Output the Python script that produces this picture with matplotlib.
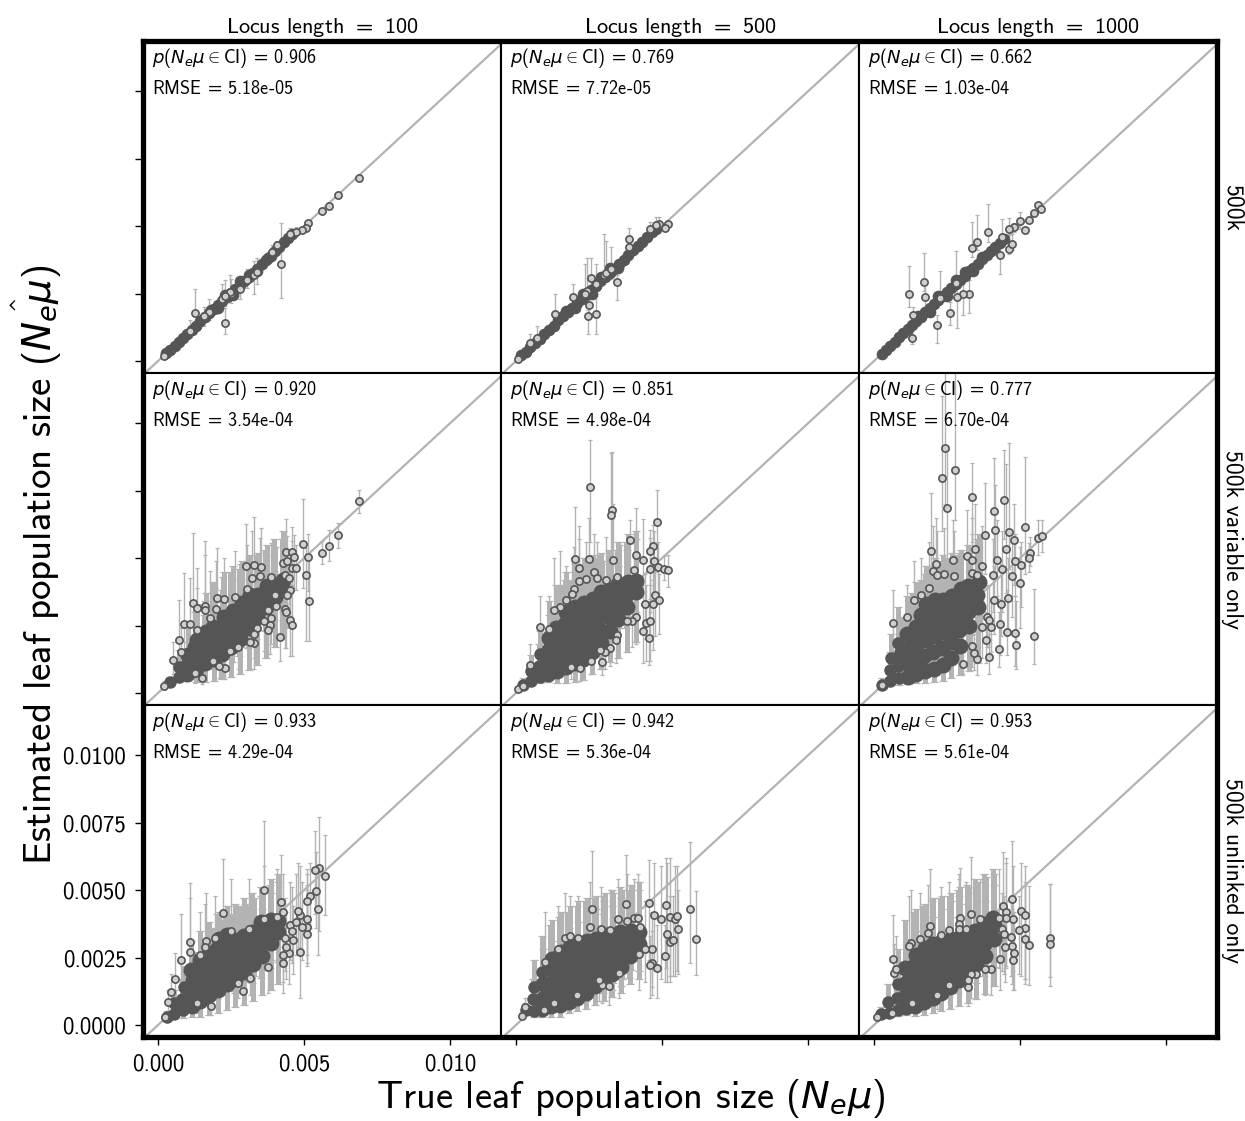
#!/usr/bin/env python3

import matplotlib
matplotlib.use('Agg')
import matplotlib.pyplot as plt
import numpy as np

################################################################################

# all values are read off the picture, in units of 1e-5
# the plain lists are the points that can be told apart
# the core lists stand in for the overplotted middle of each cloud

r1c1_x = [687, 615, 587, 562, 515, 508, 494, 472, 422, 127, 229, 20, 327, 249, 219, 304, 390, 453, 173, 110, 156, 407, 245, 230, 339, 282]
r1c1_y = [678, 614, 576, 558, 512, 494, 486, 479, 358, 177, 141, 19, 320, 250, 228, 300, 405, 470, 180, 112, 165, 430, 255, 240, 330, 265]
r1c1_hi = [684, 620, 581, 562, 520, 500, 492, 498, 510, 265, 198, 22, 370, 302, 285, 340, 430, 494, 228, 150, 200, 445, 320, 300, 380, 300]
r1c1_lo = [672, 608, 571, 554, 505, 488, 480, 470, 232, 165, 101, 17, 247, 215, 200, 270, 380, 445, 150, 90, 130, 400, 225, 205, 285, 230]
r1c1_core_x = [28, 42, 56, 70, 85, 100, 115, 130, 145, 160, 175, 190, 205, 220, 235, 250, 265, 280, 295, 310, 325, 340, 355, 370, 385, 400, 415, 430, 445, 458, 180, 205, 230, 255, 280, 310, 340, 375]
r1c1_core_y = [28, 42, 57, 71, 86, 100, 116, 131, 147, 163, 178, 192, 208, 222, 238, 252, 266, 282, 297, 310, 326, 342, 358, 374, 390, 407, 422, 440, 456, 470, 190, 195, 243, 245, 295, 320, 335, 382]
r1c1_core_hi = []
r1c1_core_lo = []

r1c2_x = [7, 520, 489, 511, 387, 386, 258, 346, 133, 195, 248, 247, 275, 300, 309, 325, 243, 236, 272, 48, 73, 478, 460]
r1c2_y = [8, 509, 508, 493, 451, 423, 308, 294, 174, 237, 207, 165, 175, 320, 325, 340, 260, 250, 285, 68, 85, 505, 490]
r1c2_hi = [10, 515, 534, 498, 493, 440, 383, 320, 249, 284, 240, 190, 240, 469, 444, 422, 383, 360, 358, 101, 130, 534, 515]
r1c2_lo = [6, 503, 480, 488, 420, 405, 280, 226, 150, 215, 175, 101, 99, 285, 295, 305, 225, 215, 250, 55, 60, 480, 470]
r1c2_core_x = [16, 32, 48, 64, 80, 96, 112, 128, 144, 160, 176, 192, 208, 224, 240, 256, 272, 288, 304, 320, 336, 352, 368, 384, 400, 416, 432, 448, 464, 478, 170, 200, 230, 260, 290, 320, 350]
r1c2_core_y = [20, 34, 50, 66, 83, 98, 115, 130, 150, 165, 180, 197, 215, 230, 245, 262, 278, 295, 310, 325, 342, 360, 375, 392, 410, 425, 442, 460, 478, 490, 185, 195, 250, 250, 310, 345, 345]
r1c2_core_hi = []
r1c2_core_lo = []

r1c3_x = [561, 573, 548, 532, 500, 480, 461, 518, 389, 352, 335, 120, 170, 175, 431, 463, 472, 324, 303, 283, 259, 215, 129, 134, 225, 282, 437]
r1c3_y = [580, 564, 549, 523, 518, 496, 491, 484, 477, 440, 419, 247, 292, 237, 392, 417, 434, 250, 247, 237, 178, 132, 86, 170, 235, 290, 460]
r1c3_hi = [586, 570, 556, 530, 554, 510, 530, 492, 582, 543, 514, 352, 400, 296, 450, 440, 470, 300, 290, 290, 220, 170, 110, 200, 333, 407, 525]
r1c3_lo = [574, 558, 542, 516, 490, 480, 470, 476, 440, 410, 385, 200, 260, 200, 321, 395, 410, 179, 170, 123, 132, 66, 64, 150, 210, 265, 435]
r1c3_core_x = [26, 40, 55, 70, 85, 100, 115, 130, 145, 160, 175, 190, 205, 220, 235, 250, 265, 280, 295, 310, 325, 340, 355, 370, 385, 400, 415, 430, 445, 150, 190, 220, 250, 280, 310, 340, 370]
r1c3_core_y = [27, 40, 55, 70, 87, 102, 118, 133, 148, 163, 180, 195, 210, 226, 240, 255, 272, 287, 300, 316, 332, 345, 360, 378, 392, 406, 422, 438, 452, 165, 180, 240, 240, 300, 330, 335, 385]
r1c3_core_hi = []
r1c3_core_lo = []

################################################################################

r2c1_x = [687, 615, 587, 562, 496, 513, 508, 516, 438, 460, 465, 428, 440, 459, 473, 300, 330, 352, 350, 323, 387, 433, 448, 304, 263, 227, 202, 199, 159, 159, 121, 133, 90, 110, 133, 70, 52, 79, 176, 419, 453, 457, 436, 437, 388, 382, 378, 405, 378, 452, 443, 402, 228, 208, 330, 314, 272, 364, 339, 327, 247, 188, 127, 150, 20]
r2c1_y = [711, 584, 546, 519, 554, 504, 439, 340, 522, 522, 503, 482, 488, 464, 464, 472, 476, 466, 433, 427, 429, 439, 427, 385, 357, 348, 353, 312, 324, 309, 333, 316, 254, 254, 235, 197, 123, 153, 276, 207, 269, 251, 313, 301, 279, 251, 234, 324, 306, 380, 362, 362, 94, 101, 185, 190, 170, 266, 242, 217, 155, 118, 75, 57, 27]
r2c1_hi = [753, 630, 604, 562, 718, 589, 537, 501, 646, 614, 587, 562, 581, 562, 550, 626, 651, 611, 574, 599, 555, 537, 501, 550, 525, 500, 537, 488, 562, 513, 593, 463, 445, 427, 390, 345, 190, 242, 451, 328, 427, 402, 451, 427, 402, 365, 365, 451, 402, 488, 464, 476, 168, 180, 291, 291, 254, 377, 353, 328, 229, 205, 131, 106, 45]
r2c1_lo = [667, 537, 488, 480, 390, 377, 192, 192, 402, 402, 390, 377, 402, 377, 383, 340, 352, 340, 328, 303, 328, 340, 328, 254, 229, 217, 217, 180, 180, 168, 168, 155, 118, 118, 106, 94, 69, 81, 131, 118, 137, 137, 168, 168, 180, 143, 143, 217, 217, 254, 242, 254, 50, 57, 87, 94, 87, 155, 131, 131, 69, 44, 38, 32, 13]
r2c1_core_x = [40, 70, 72, 98, 101, 103, 128, 131, 126, 133, 160, 157, 162, 165, 190, 187, 193, 188, 220, 218, 223, 225, 250, 253, 247, 255, 280, 277, 283, 286, 310, 308, 312, 315, 340, 337, 343, 370, 367, 373, 400, 397, 425, 428]
r2c1_core_y = [40, 60, 95, 70, 105, 140, 90, 130, 170, 195, 110, 150, 190, 225, 125, 165, 205, 245, 145, 190, 235, 280, 170, 215, 260, 305, 200, 245, 290, 335, 240, 285, 330, 365, 280, 320, 365, 320, 355, 395, 355, 400, 385, 420]
r2c1_core_hi = [60, 95, 160, 130, 190, 260, 170, 240, 300, 330, 190, 290, 340, 370, 220, 330, 390, 410, 270, 380, 430, 450, 320, 420, 450, 470, 360, 460, 480, 490, 420, 490, 500, 510, 480, 510, 520, 510, 530, 550, 540, 570, 570, 600]
r2c1_core_lo = [28, 40, 55, 45, 60, 80, 40, 75, 95, 110, 40, 85, 105, 125, 45, 90, 115, 135, 50, 100, 130, 165, 60, 115, 145, 185, 70, 135, 170, 205, 85, 165, 205, 230, 105, 200, 235, 130, 230, 260, 170, 270, 200, 300]

r2c2_x = [254, 329, 325, 483, 390, 468, 457, 203, 248, 331, 410, 435, 473, 487, 507, 520, 403, 457, 214, 266, 239, 277, 308, 346, 214, 199, 192, 172, 151, 128, 82, 111, 477, 489, 468, 443, 412, 445, 457, 435, 455, 397, 380, 346, 342, 321, 303, 286, 294, 256, 220, 189, 48, 7, 25]
r2c2_y = [763, 679, 661, 635, 568, 545, 525, 498, 498, 492, 512, 493, 488, 468, 461, 455, 457, 461, 463, 447, 424, 426, 420, 429, 414, 387, 367, 343, 320, 309, 244, 238, 365, 345, 328, 328, 281, 260, 266, 229, 202, 266, 266, 213, 196, 168, 153, 158, 116, 118, 94, 96, 103, 15, 26]
r2c2_hi = [940, 893, 890, 753, 642, 624, 605, 688, 650, 700, 685, 646, 600, 560, 507, 510, 590, 575, 620, 590, 560, 560, 580, 560, 570, 540, 500, 470, 525, 500, 360, 360, 480, 440, 420, 440, 400, 400, 400, 330, 340, 370, 350, 330, 310, 260, 240, 240, 190, 190, 160, 160, 180, 20, 35]
r2c2_lo = [560, 500, 480, 450, 400, 330, 350, 320, 310, 330, 340, 330, 340, 370, 420, 393, 290, 300, 300, 300, 270, 290, 270, 290, 270, 250, 230, 220, 210, 190, 150, 150, 210, 220, 160, 200, 180, 120, 120, 110, 105, 170, 150, 130, 110, 100, 90, 90, 65, 70, 45, 50, 60, 10, 18]
r2c2_core_x = [25, 50, 52, 80, 78, 83, 110, 108, 112, 114, 140, 137, 143, 138, 170, 167, 173, 168, 172, 200, 198, 203, 197, 202, 230, 228, 233, 226, 232, 260, 257, 263, 258, 262, 290, 287, 293, 288, 292, 320, 317, 323, 319, 350, 347, 353, 349, 380, 377, 383, 410, 412, 155, 185, 215, 245, 275, 125, 155, 185, 215, 245]
r2c2_core_y = [30, 45, 80, 60, 100, 145, 70, 115, 160, 205, 80, 130, 180, 240, 95, 145, 200, 255, 300, 110, 160, 215, 270, 320, 125, 175, 230, 285, 335, 150, 205, 260, 310, 350, 185, 235, 290, 340, 375, 230, 280, 330, 380, 275, 320, 365, 405, 320, 365, 410, 375, 415, 225, 240, 250, 285, 315, 135, 160, 175, 200, 230]
r2c2_core_hi = [55, 85, 140, 110, 180, 230, 130, 210, 290, 340, 150, 250, 340, 400, 170, 270, 370, 420, 450, 200, 300, 400, 450, 480, 220, 340, 430, 480, 500, 270, 390, 460, 500, 510, 330, 440, 490, 510, 520, 400, 480, 520, 530, 470, 530, 550, 560, 530, 560, 590, 570, 600, 400, 420, 450, 480, 500, 300, 340, 360, 400, 430]
r2c2_core_lo = [18, 28, 45, 35, 55, 85, 40, 60, 90, 120, 38, 70, 100, 140, 38, 80, 115, 150, 175, 42, 90, 125, 165, 195, 48, 100, 135, 175, 210, 70, 115, 150, 195, 225, 90, 135, 180, 220, 250, 115, 170, 210, 250, 130, 200, 240, 280, 150, 240, 285, 190, 300, 120, 130, 140, 160, 180, 70, 80, 95, 110, 125]

r2c3_x = [242, 278, 232, 249, 335, 446, 411, 413, 381, 463, 480, 517, 560, 574, 452, 196, 346, 319, 269, 337, 212, 535, 531, 504, 482, 420, 369, 438, 408, 335, 351, 500, 472, 200, 240, 274, 214, 188, 135, 66, 114, 161, 460, 433, 411, 385, 392, 401, 430, 454, 482, 485, 548, 427, 392, 382, 354, 343, 334, 303, 368, 26]
r2c3_y = [907, 827, 798, 685, 727, 716, 676, 603, 584, 598, 568, 615, 575, 582, 533, 526, 534, 509, 493, 494, 478, 520, 499, 475, 488, 494, 472, 461, 439, 445, 436, 409, 433, 454, 441, 433, 436, 390, 345, 259, 282, 362, 352, 330, 346, 282, 269, 244, 254, 226, 222, 179, 211, 164, 133, 195, 124, 147, 174, 106, 246, 29]
r2c3_hi = [1200, 1200, 1100, 900, 852, 901, 870, 770, 778, 926, 700, 876, 640, 640, 850, 741, 700, 680, 640, 650, 650, 580, 555, 560, 590, 640, 620, 600, 570, 590, 560, 540, 560, 620, 610, 600, 600, 560, 490, 383, 400, 500, 500, 480, 470, 400, 400, 350, 350, 380, 360, 340, 386, 300, 220, 300, 200, 220, 260, 175, 340, 40]
r2c3_lo = [700, 640, 600, 470, 560, 570, 490, 450, 440, 460, 400, 440, 510, 521, 370, 380, 400, 390, 350, 350, 330, 470, 450, 320, 360, 360, 340, 300, 300, 310, 320, 240, 280, 320, 300, 300, 300, 270, 250, 170, 180, 250, 230, 210, 220, 170, 170, 150, 140, 140, 100, 90, 108, 95, 70, 110, 65, 85, 95, 70, 130, 18]
r2c3_core_x = [28, 55, 53, 57, 85, 83, 87, 82, 115, 112, 118, 113, 145, 142, 148, 143, 175, 172, 178, 173, 177, 205, 202, 208, 203, 207, 235, 232, 238, 233, 237, 265, 262, 268, 263, 267, 295, 292, 298, 293, 297, 325, 322, 328, 323, 355, 352, 358, 160, 190, 220, 250, 280, 130, 160, 190, 220, 250, 100, 130]
r2c3_core_y = [30, 45, 85, 130, 55, 100, 150, 185, 60, 110, 165, 220, 70, 125, 185, 245, 80, 135, 195, 260, 330, 90, 150, 210, 270, 345, 105, 165, 225, 285, 345, 130, 190, 245, 305, 360, 175, 235, 290, 345, 385, 250, 300, 350, 395, 320, 365, 410, 290, 300, 315, 330, 350, 215, 225, 240, 255, 275, 130, 155]
r2c3_core_hi = [55, 80, 150, 220, 100, 180, 270, 320, 110, 200, 290, 360, 125, 230, 330, 410, 145, 250, 360, 440, 470, 165, 280, 390, 470, 500, 190, 320, 430, 490, 510, 240, 360, 460, 500, 520, 320, 440, 500, 520, 530, 450, 510, 530, 550, 540, 570, 590, 420, 450, 480, 500, 510, 370, 380, 410, 430, 470, 280, 320]
r2c3_core_lo = [18, 28, 50, 75, 30, 55, 85, 105, 32, 60, 90, 125, 35, 70, 105, 140, 38, 75, 110, 150, 190, 40, 85, 120, 160, 210, 45, 95, 130, 170, 210, 55, 110, 145, 185, 225, 65, 140, 175, 215, 240, 80, 185, 215, 245, 110, 225, 260, 140, 155, 170, 190, 210, 110, 115, 125, 140, 160, 70, 85]

################################################################################

r3c1_x = [573, 550, 539, 540, 522, 509, 548, 364, 420, 427, 221, 110, 110, 79, 56, 44, 32, 24, 180, 291, 272, 316, 376, 427, 486, 449, 438, 429, 462, 434, 510, 510, 487, 480, 509, 453, 459, 474, 493, 196, 165, 144, 161, 250, 310, 362, 407, 133]
r3c1_y = [552, 582, 573, 498, 478, 461, 429, 500, 457, 420, 414, 306, 271, 241, 169, 121, 86, 31, 71, 127, 155, 174, 214, 228, 269, 265, 290, 259, 314, 324, 339, 363, 407, 423, 393, 370, 347, 382, 363, 322, 312, 261, 290, 349, 354, 394, 400, 80]
r3c1_hi = [703, 770, 721, 640, 600, 580, 560, 758, 629, 560, 616, 526, 470, 413, 265, 190, 130, 40, 105, 180, 220, 250, 310, 350, 390, 380, 420, 370, 440, 470, 500, 520, 590, 600, 560, 530, 510, 560, 530, 480, 490, 420, 450, 540, 540, 590, 580, 130]
r3c1_lo = [409, 348, 410, 360, 360, 350, 259, 340, 330, 290, 270, 190, 160, 130, 100, 80, 50, 18, 37, 80, 100, 110, 120, 120, 99, 150, 170, 160, 190, 200, 220, 230, 280, 290, 260, 240, 230, 260, 240, 200, 190, 150, 170, 230, 230, 270, 270, 45]
r3c1_core_x = [30, 55, 53, 85, 83, 87, 115, 112, 118, 113, 145, 143, 147, 142, 175, 172, 178, 173, 205, 202, 208, 203, 207, 235, 232, 238, 233, 237, 265, 262, 268, 263, 295, 292, 298, 293, 325, 322, 328, 323, 355, 352, 358, 353, 385, 382, 388, 410, 412, 190, 220, 250, 280, 160, 190, 220, 250, 280, 310]
r3c1_core_y = [30, 40, 80, 55, 95, 140, 70, 115, 165, 205, 90, 135, 185, 240, 110, 155, 205, 265, 130, 175, 225, 280, 320, 150, 195, 245, 295, 335, 170, 215, 265, 315, 195, 240, 285, 330, 225, 265, 305, 345, 255, 300, 345, 380, 305, 350, 390, 345, 385, 235, 255, 270, 290, 160, 180, 200, 220, 240, 265]
r3c1_core_hi = [50, 70, 130, 100, 170, 220, 130, 200, 270, 310, 160, 240, 310, 350, 190, 270, 340, 380, 220, 310, 380, 410, 420, 260, 340, 410, 430, 440, 300, 380, 440, 450, 340, 420, 450, 470, 380, 450, 470, 490, 430, 480, 500, 510, 490, 520, 540, 530, 560, 360, 390, 410, 440, 280, 310, 340, 370, 400, 440]
r3c1_core_lo = [20, 25, 45, 25, 55, 80, 28, 65, 90, 115, 30, 75, 100, 130, 35, 85, 115, 150, 45, 95, 125, 160, 185, 55, 110, 140, 170, 195, 65, 120, 150, 185, 75, 135, 165, 195, 90, 155, 180, 205, 110, 175, 205, 230, 130, 210, 240, 150, 235, 120, 130, 145, 160, 85, 95, 110, 125, 140, 160]

r3c2_x = [595, 618, 514, 456, 376, 259, 472, 496, 527, 544, 550, 554, 518, 527, 537, 510, 483, 464, 459, 464, 403, 418, 349, 380, 254, 291, 320, 166, 185, 211, 145, 100, 426, 443, 420, 317, 294, 283, 351, 208, 128, 97, 19, 31]
r3c2_y = [430, 319, 446, 452, 450, 429, 407, 392, 400, 394, 403, 355, 339, 308, 315, 256, 211, 231, 223, 281, 398, 398, 392, 386, 363, 355, 351, 324, 331, 324, 281, 234, 363, 283, 262, 145, 148, 166, 191, 111, 80, 55, 33, 67]
r3c2_hi = [678, 497, 620, 610, 632, 647, 600, 590, 620, 590, 590, 500, 600, 480, 480, 370, 370, 350, 330, 420, 540, 560, 540, 560, 530, 510, 500, 490, 480, 480, 440, 420, 530, 460, 420, 220, 210, 250, 300, 170, 125, 80, 45, 100]
r3c2_lo = [228, 186, 210, 240, 310, 280, 220, 170, 180, 180, 200, 190, 160, 160, 180, 160, 100, 110, 100, 140, 240, 240, 260, 250, 240, 240, 230, 210, 210, 210, 170, 130, 220, 160, 130, 75, 80, 90, 100, 65, 50, 35, 22, 40]
r3c2_core_x = [35, 60, 58, 62, 90, 88, 92, 87, 120, 118, 122, 117, 123, 150, 148, 152, 147, 153, 180, 178, 182, 177, 183, 210, 208, 212, 207, 213, 240, 238, 242, 237, 243, 270, 268, 272, 267, 273, 300, 298, 302, 297, 303, 330, 328, 332, 327, 360, 358, 362, 357, 390, 388, 392, 420, 422]
r3c2_core_y = [55, 50, 95, 140, 60, 105, 150, 195, 70, 115, 160, 210, 245, 75, 125, 175, 225, 270, 85, 140, 190, 240, 290, 100, 150, 200, 250, 300, 120, 170, 220, 265, 310, 145, 190, 235, 280, 320, 170, 215, 260, 305, 335, 190, 235, 280, 325, 215, 255, 300, 345, 255, 300, 350, 300, 345]
r3c2_core_hi = [80, 85, 170, 240, 105, 190, 280, 330, 120, 210, 310, 370, 390, 135, 230, 330, 400, 420, 155, 260, 360, 420, 440, 180, 280, 380, 440, 460, 220, 320, 410, 460, 470, 270, 360, 430, 470, 480, 320, 410, 460, 480, 490, 360, 440, 490, 500, 400, 470, 500, 510, 460, 500, 520, 500, 530]
r3c2_core_lo = [35, 30, 50, 70, 30, 55, 80, 100, 30, 60, 85, 110, 125, 30, 65, 90, 120, 140, 45, 75, 100, 130, 150, 50, 80, 105, 135, 160, 60, 90, 115, 145, 170, 75, 105, 130, 155, 175, 90, 120, 145, 170, 190, 105, 130, 155, 185, 120, 145, 170, 200, 150, 175, 205, 170, 200]

r3c3_x = [602, 604, 472, 443, 504, 518, 518, 518, 529, 475, 452, 452, 429, 332, 294, 292, 292, 191, 185, 158, 125, 120, 64, 68, 76, 364, 314, 255, 228, 437, 446, 469, 498, 472, 480, 477, 448, 431, 400, 381, 349, 332, 322, 322, 255, 217, 131, 8, 62]
r3c3_y = [323, 299, 468, 442, 421, 408, 360, 320, 296, 394, 419, 398, 398, 410, 398, 376, 357, 367, 342, 318, 302, 292, 246, 191, 206, 392, 357, 351, 333, 355, 336, 326, 351, 292, 267, 240, 289, 243, 206, 209, 187, 187, 139, 166, 148, 111, 80, 28, 43]
r3c3_hi = [524, 524, 684, 640, 600, 590, 530, 520, 517, 590, 620, 600, 580, 622, 583, 560, 540, 579, 520, 490, 500, 480, 407, 300, 330, 540, 530, 530, 510, 490, 480, 480, 480, 430, 420, 350, 420, 370, 310, 320, 280, 280, 210, 240, 220, 180, 120, 36, 70]
r3c3_lo = [144, 178, 300, 250, 180, 170, 170, 150, 148, 200, 220, 210, 210, 280, 270, 260, 250, 240, 230, 210, 200, 190, 150, 110, 120, 250, 240, 230, 220, 200, 190, 180, 190, 150, 130, 130, 160, 130, 110, 110, 100, 100, 70, 90, 85, 60, 50, 20, 28]
r3c3_core_x = [25, 50, 48, 80, 78, 82, 110, 108, 112, 107, 140, 138, 142, 137, 143, 170, 168, 172, 167, 173, 200, 198, 202, 197, 203, 230, 228, 232, 227, 233, 260, 258, 262, 257, 263, 290, 288, 292, 287, 293, 320, 318, 322, 317, 350, 348, 352, 347, 380, 378, 382, 377, 410, 412, 408]
r3c3_core_y = [40, 45, 85, 55, 100, 150, 65, 110, 160, 210, 70, 120, 170, 220, 260, 85, 135, 185, 235, 285, 100, 150, 200, 250, 300, 120, 165, 215, 265, 310, 140, 185, 235, 280, 320, 165, 210, 255, 300, 325, 195, 240, 285, 330, 225, 265, 305, 350, 255, 300, 345, 375, 320, 370, 395]
r3c3_core_hi = [65, 80, 150, 100, 190, 280, 115, 210, 320, 390, 125, 230, 350, 420, 430, 150, 250, 370, 440, 450, 180, 290, 400, 460, 470, 210, 320, 430, 470, 480, 250, 350, 460, 480, 490, 300, 400, 480, 500, 510, 360, 450, 510, 520, 410, 490, 530, 540, 460, 530, 550, 560, 520, 560, 580]
r3c3_core_lo = [25, 28, 50, 32, 55, 85, 38, 60, 90, 120, 32, 65, 95, 125, 150, 38, 75, 105, 135, 165, 45, 85, 115, 145, 175, 52, 95, 125, 155, 180, 60, 105, 135, 160, 185, 70, 120, 150, 175, 190, 80, 140, 165, 195, 95, 155, 180, 205, 115, 180, 205, 225, 145, 215, 235]

################################################################################

locus_lengths = ['100', '500', '1000']
row_names = ['500k', '500k variable only', '500k unlinked only']
coverage = [['0.906', '0.769', '0.662'], ['0.920', '0.851', '0.777'], ['0.933', '0.942', '0.953']]
rmse = [['5.18e-05', '7.72e-05', '1.03e-04'], ['3.54e-04', '4.98e-04', '6.70e-04'], ['4.29e-04', '5.36e-04', '5.61e-04']]
x_ticks = [0.0, 0.005, 0.01]
x_tick_labels = ['0.000', '0.005', '0.010']
y_ticks = [0.0, 0.0025, 0.005, 0.0075, 0.01]
y_tick_labels = ['0.0000', '0.0025', '0.0050', '0.0075', '0.0100']

panels = [
	[(r1c1_x, r1c1_y, r1c1_hi, r1c1_lo, r1c1_core_x, r1c1_core_y, r1c1_core_hi, r1c1_core_lo),
	 (r1c2_x, r1c2_y, r1c2_hi, r1c2_lo, r1c2_core_x, r1c2_core_y, r1c2_core_hi, r1c2_core_lo),
	 (r1c3_x, r1c3_y, r1c3_hi, r1c3_lo, r1c3_core_x, r1c3_core_y, r1c3_core_hi, r1c3_core_lo)],
	[(r2c1_x, r2c1_y, r2c1_hi, r2c1_lo, r2c1_core_x, r2c1_core_y, r2c1_core_hi, r2c1_core_lo),
	 (r2c2_x, r2c2_y, r2c2_hi, r2c2_lo, r2c2_core_x, r2c2_core_y, r2c2_core_hi, r2c2_core_lo),
	 (r2c3_x, r2c3_y, r2c3_hi, r2c3_lo, r2c3_core_x, r2c3_core_y, r2c3_core_hi, r2c3_core_lo)],
	[(r3c1_x, r3c1_y, r3c1_hi, r3c1_lo, r3c1_core_x, r3c1_core_y, r3c1_core_hi, r3c1_core_lo),
	 (r3c2_x, r3c2_y, r3c2_hi, r3c2_lo, r3c2_core_x, r3c2_core_y, r3c2_core_hi, r3c2_core_lo),
	 (r3c3_x, r3c3_y, r3c3_hi, r3c3_lo, r3c3_core_x, r3c3_core_y, r3c3_core_hi, r3c3_core_lo)],
]

################################################################################

def draw_bars(ax, x, y, hi, lo, width, cap):
	'''
	Draw the error bars of one set of points, the values being in units of 1e-5.
	'''

	if len(hi) == 0:
		return
	x, y, hi, lo = [np.array(values) * 1e-5 for values in (x, y, hi, lo)]
	yerr = [np.maximum(y - lo, 0), np.maximum(hi - y, 0)]
	ax.errorbar(x, y, yerr = yerr, fmt = 'none', ecolor = '#b3b3b3', elinewidth = width, capsize = cap, capthick = 0.9, zorder = 2)

################################################################################

if __name__ == '__main__':

	plt.rcParams['font.family'] = ['cmss10', 'DejaVu Sans']
	plt.rcParams['axes.unicode_minus'] = False
	plt.rcParams['mathtext.fontset'] = 'custom'
	plt.rcParams['mathtext.rm'] = 'cmss10'
	plt.rcParams['mathtext.it'] = 'DejaVu Sans:italic'
	plt.rcParams['mathtext.bf'] = 'DejaVu Sans:bold'
	plt.rcParams['mathtext.fallback'] = 'cm'

	fig, axes = plt.subplots(3, 3, figsize = (12.45, 11.21), dpi = 100, sharex = True, sharey = True)
	fig.subplots_adjust(left = 143 / 1245, right = 1217 / 1245, top = 1 - 41 / 1121, bottom = 1 - 1037 / 1121, wspace = 0, hspace = 0)

	for r in range(3):
		for c in range(3):
			ax = axes[r][c]
			x, y, hi, lo, core_x, core_y, core_hi, core_lo = panels[r][c]

			ax.plot([-0.001, 0.013], [-0.001, 0.013], color = '#b3b3b3', linewidth = 1.6, zorder = 1)

			# error bars go below all the markers
			draw_bars(ax, x, y, hi, lo, 1.0, 1.7)
			draw_bars(ax, core_x, core_y, core_hi, core_lo, 3.6, 3.2)

			# the tip of each cloud is narrow, so its points get smaller markers
			core_x = np.array(core_x) * 1e-5
			core_y = np.array(core_y) * 1e-5
			tip = core_x < 0.0009
			core_size = 8.4 if r == 0 else 11.5
			tip_size = 8.4 if r == 0 else 9
			ax.plot(core_x[tip], core_y[tip], 'o', markersize = tip_size, color = '#555555', markeredgewidth = 0, zorder = 3)
			ax.plot(core_x[~tip], core_y[~tip], 'o', markersize = core_size, color = '#555555', markeredgewidth = 0, zorder = 3)

			ax.plot(np.array(x) * 1e-5, np.array(y) * 1e-5, 'o', markersize = 5.2, markerfacecolor = '#d0d0d0', markeredgecolor = '#555555', markeredgewidth = 1.2, zorder = 4)

			ax.text(0.025, 0.949, r'$p(N_e\mu\in$CI$)\,=\,$' + coverage[r][c], transform = ax.transAxes, fontsize = 13.1, va = 'center', zorder = 5)
			ax.text(0.025, 0.855, r'RMSE$\,=\,$' + rmse[r][c], transform = ax.transAxes, fontsize = 13.1, va = 'center', zorder = 5)

			ax.set_xlim(-0.00052, 0.01175)
			ax.set_ylim(-0.00045, 0.01187)
			ax.set_xticks(x_ticks)
			ax.set_xticklabels(x_tick_labels)
			ax.set_yticks(y_ticks)
			ax.set_yticklabels(y_tick_labels)
			ax.tick_params(length = 6, width = 1, labelsize = 16.5, pad = 6, bottom = r == 2, left = c == 0, labelbottom = r == 2 and c == 0, labelleft = r == 2 and c == 0)

			for spine in ax.spines.values():
				spine.set_linewidth(1.5)

			if r == 0:
				ax.set_title('Locus length $=$ ' + locus_lengths[c], fontsize = 16, pad = 6)
			if c == 2:
				ax.text(1.043, 0.5, row_names[r], transform = ax.transAxes, rotation = 270, fontsize = 17, ha = 'center', va = 'center')

	# thick frame around the whole grid
	frame = fig.add_axes(axes[0][0].get_position().union([axes[0][0].get_position(), axes[2][2].get_position()]), facecolor = 'none')
	frame.set_xticks([])
	frame.set_yticks([])
	for spine in frame.spines.values():
		spine.set_linewidth(3.8)

	fig.text(631 / 1245, 1 - 1099 / 1121, r'True leaf population size $(N_e\mu)$', fontsize = 27.7, ha = 'center', va = 'center')
	fig.text(37 / 1245, 1 - 565 / 1121, r'Estimated leaf population size $(\hat{N_e\mu})$', fontsize = 28, rotation = 90, ha = 'center', va = 'center')

	fig.savefig('out.png', dpi = 100)
